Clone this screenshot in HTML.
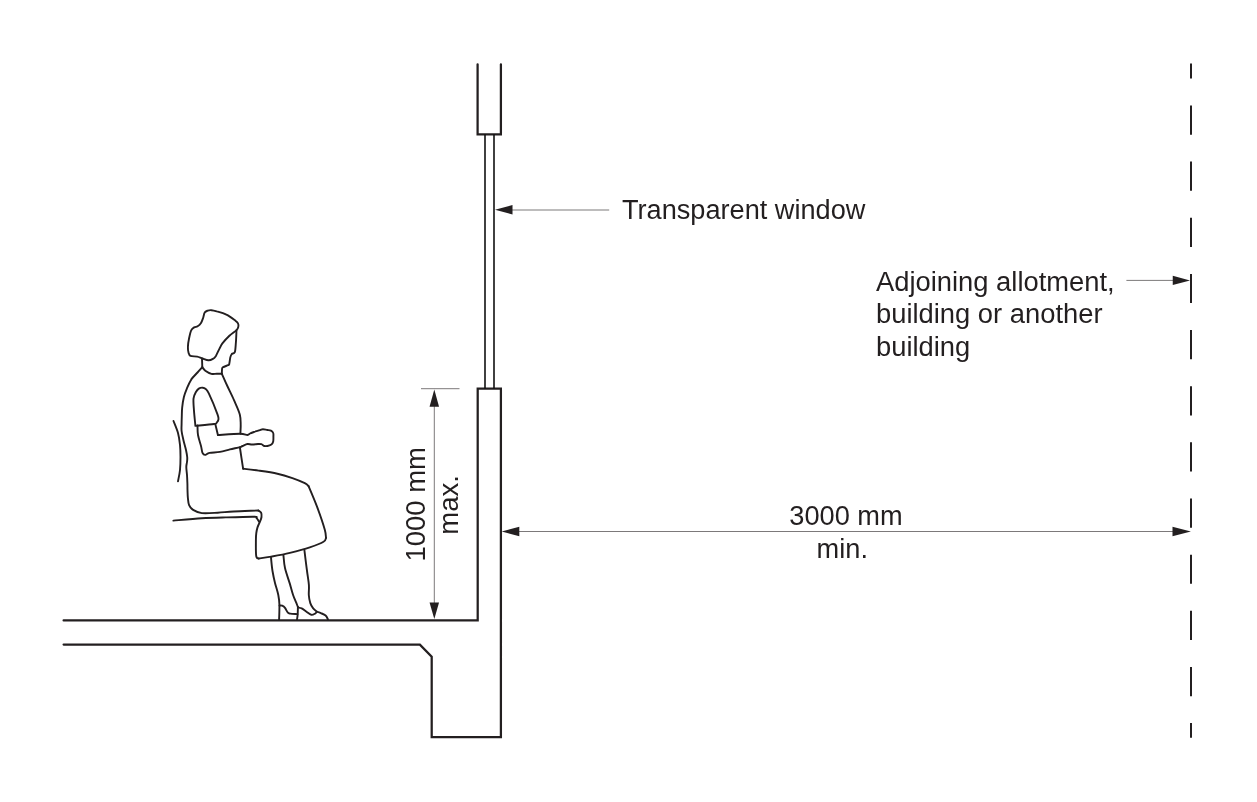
<!DOCTYPE html>
<html><head><meta charset="utf-8"><style>
html,body{margin:0;padding:0;background:#fff;}
body{width:1257px;height:802px;overflow:hidden;position:relative;}
svg{position:absolute;left:0;top:0;will-change:transform;}
text{font-family:"Liberation Sans",sans-serif;font-size:27.5px;fill:#231f20;}
</style></head><body>
<svg width="1257" height="802" viewBox="0 0 1257 802">
<g fill="none" stroke="#231f20" stroke-width="2.25" stroke-linejoin="miter">
<path d="M477.6,64.3 V134.3 H500.9 V64.3" stroke-linecap="round"/>
<path d="M63.6,620.4 H477.7 V388.7 H500.9 V737 H431.7 V656.6 L419.9,644.6 H63.6" stroke-linecap="round"/>
</g>
<g stroke="#111" stroke-width="1.6">
<line x1="485" y1="134.3" x2="485" y2="388.7"/>
<line x1="494" y1="134.3" x2="494" y2="388.7"/>
</g>
<line x1="1191" y1="63.5" x2="1191" y2="737.8" stroke="#231f20" stroke-width="2" stroke-dasharray="29.2 26.95" stroke-dashoffset="14.2"/>
<g stroke="#231f20" stroke-width="0.6">
<line x1="434.3" y1="395" x2="434.3" y2="610"/>
<line x1="421" y1="388.7" x2="459.5" y2="388.7"/>
<line x1="505" y1="210" x2="609.2" y2="210"/>
<line x1="1126.4" y1="280.4" x2="1180" y2="280.4"/>
<line x1="510" y1="531.5" x2="1180" y2="531.5"/>
</g>
<g fill="#231f20">
<path d="M434.3,389.5 L439.05,406.75 L429.55,406.75Z"/>
<path d="M434.3,619 L439.05,602.5 L429.55,602.5Z"/>
<path d="M495,209.8 L512.5,205.05 L512.5,214.55Z"/>
<path d="M1190,280.4 L1172.75,275.8 L1172.75,285Z"/>
<path d="M501.7,531.5 L519.3,526.85 L519.3,536.35Z"/>
<path d="M1190.9,531.5 L1172.5,526.85 L1172.5,536.35Z"/>
</g>
<g fill="none" stroke="#231f20" stroke-width="1.9" stroke-linecap="round" stroke-linejoin="round">
<path d="M204.7,312.5 C205.4,311.3 206.6,311.0 207.7,310.6 C208.8,310.2 209.9,310.1 211.4,310.2 C212.9,310.3 214.2,310.6 216.7,311.4 C219.2,312.1 223.3,313.1 226.4,314.7 C229.5,316.2 233.5,319.3 235.4,320.7 C237.3,322.1 237.5,322.3 238.0,323.3 C238.5,324.3 238.6,325.6 238.3,326.7 C238.1,327.8 238.0,328.6 236.5,330.1 C235.0,331.6 231.7,333.5 229.4,335.7 C227.1,337.9 224.2,341.0 222.6,343.1 C221.0,345.2 220.7,346.3 219.6,348.4 C218.5,350.5 217.0,354.1 215.9,355.9 C214.8,357.6 214.2,358.2 212.9,358.9 C211.7,359.6 210.2,360.4 208.4,360.3 C206.7,360.2 204.3,359.1 202.4,358.5 C200.5,357.9 199.2,357.0 197.2,356.6 C195.2,356.2 191.9,356.5 190.5,355.9 C189.1,355.3 189.0,354.4 188.6,352.9 C188.2,351.4 187.8,349.3 187.9,346.9 C188.0,344.5 188.4,341.4 189.0,338.7 C189.6,335.9 190.3,332.3 191.2,330.4 C192.1,328.5 193.1,328.1 194.2,327.4 C195.3,326.7 196.5,327.0 197.6,326.3 C198.7,325.6 200.1,324.4 201.0,323.0 C201.9,321.6 202.6,319.4 203.2,317.7 C203.8,315.9 203.9,313.7 204.7,312.5Z"/>
<path d="M236.5,330.3 C236.4,332.3 236.2,338.8 235.9,342.4 C235.6,346.0 235.5,350.3 234.8,352.2 C234.1,354.1 232.6,353.1 231.8,354.0 C231.1,354.9 230.7,355.7 230.3,357.4 C229.9,359.1 229.6,362.8 229.2,364.1 C228.8,365.4 229.1,364.7 228.1,365.2 C227.1,365.7 224.2,366.5 223.2,367.1 C222.2,367.7 222.3,367.5 222.1,368.6 C221.9,369.7 221.9,372.9 221.8,373.8"/>
<path d="M202.0,358.5 C202.1,359.9 202.2,365.8 202.3,367.2"/>
<path d="M202.3,367.2 C202.8,367.8 203.8,369.6 205.3,370.7 C206.8,371.8 209.5,373.3 211.4,373.8 C213.3,374.3 214.9,373.8 216.7,373.8 C218.4,373.8 221.0,373.8 221.9,373.8"/>
<path d="M202.3,367.2 C201.5,368.1 199.3,370.5 197.5,372.5 C195.7,374.5 193.1,376.8 191.3,379.4 C189.6,382.0 188.2,385.3 187.0,388.2 C185.8,391.1 184.7,393.7 183.9,396.9 C183.1,400.1 182.5,404.2 182.2,407.4 C181.8,410.6 181.9,413.3 181.8,416.1 C181.7,418.9 181.6,421.5 181.6,424.0 C181.6,426.5 181.3,428.3 181.6,431.0 C181.9,433.7 182.7,436.8 183.4,440.0 C184.1,443.2 185.4,447.2 186.0,450.0 C186.6,452.8 187.0,455.0 187.2,457.0 C187.4,459.0 187.2,460.3 187.0,462.0 C186.8,463.7 186.3,464.8 186.3,467.0 C186.3,469.2 186.8,472.2 187.0,475.0 C187.2,477.8 187.3,481.1 187.4,483.6 C187.5,486.1 187.4,487.6 187.5,490.0 C187.6,492.4 187.6,495.5 187.9,498.0 C188.2,500.5 188.2,503.1 189.1,505.1 C190.0,507.1 191.0,508.6 193.1,509.9 C195.2,511.2 197.7,512.6 201.8,513.1 C205.9,513.6 212.4,513.0 217.7,512.7 C223.0,512.4 226.8,511.9 233.6,511.5 C240.4,511.1 254.2,510.7 258.3,510.5"/>
<path d="M258.3,510.5 C258.8,510.9 260.6,511.6 261.1,512.7 C261.6,513.8 261.7,515.5 261.5,517.0 C261.3,518.5 260.6,520.1 259.9,521.8 C259.2,523.5 258.1,525.5 257.5,527.4 C256.9,529.3 256.6,530.9 256.3,533.0 C256.0,535.1 255.9,536.2 255.9,540.0 C255.9,543.8 255.7,552.9 256.2,556.0 C256.7,559.1 258.3,558.1 258.7,558.5"/>
<path d="M258.7,558.5 C260.8,558.2 266.0,557.5 271.2,556.6 C276.4,555.7 283.5,554.5 289.9,552.9 C296.3,551.3 304.2,549.2 309.8,547.3 C315.4,545.4 320.8,543.3 323.5,541.7 C326.2,540.1 325.6,538.5 326.0,537.9"/>
<path d="M326.0,537.9 C325.8,536.5 326.2,534.9 324.8,529.8 C323.4,524.7 320.0,514.7 317.3,507.4 C314.6,500.1 310.1,489.7 308.6,486.2"/>
<path d="M308.6,486.2 C308.0,485.7 307.5,484.5 304.8,483.1 C302.1,481.8 297.0,479.7 292.4,478.1 C287.8,476.5 283.0,474.9 277.4,473.7 C271.8,472.4 264.4,471.4 258.7,470.6 C253.0,469.8 245.7,469.0 243.1,468.7"/>
<path d="M221.9,373.8 C222.8,375.8 225.1,381.1 227.1,385.5 C229.1,389.9 232.0,395.6 234.1,400.4 C236.2,405.2 238.7,410.3 239.8,414.4 C240.9,418.5 240.6,421.6 240.7,424.8 C240.8,428.0 240.4,432.3 240.4,433.8"/>
<path d="M239.9,447.5 C240.4,451.0 242.6,465.2 243.1,468.7"/>
<path d="M195.4,425.8 C195.2,423.3 194.3,415.4 194.0,410.9 C193.7,406.4 193.2,401.8 193.5,398.6 C193.8,395.4 195.2,393.4 196.1,391.7 C197.0,390.0 197.7,389.3 198.8,388.6 C199.9,387.9 201.5,387.6 202.7,387.7 C203.8,387.8 204.7,388.1 205.7,389.0 C206.7,389.9 206.8,389.2 208.8,393.4 C210.8,397.6 215.9,410.0 217.5,414.4 C219.1,418.8 218.5,418.2 218.4,419.6 C218.3,421.0 217.4,421.9 216.7,422.6 C216.0,423.3 217.6,423.5 214.0,424.0 C210.4,424.5 198.5,425.5 195.4,425.8"/>
<path d="M197.5,425.5 C197.6,427.1 197.4,431.6 198.0,435.0 C198.6,438.4 200.2,442.9 201.0,445.9 C201.8,448.9 201.8,451.4 202.5,452.9 C203.2,454.4 203.8,454.9 205.0,454.9 C206.2,454.9 207.0,453.4 209.5,452.9 C212.0,452.4 216.5,452.5 219.9,451.9 C223.3,451.3 226.6,450.2 229.9,449.4 C233.2,448.6 237.9,447.8 240.0,447.2 C242.1,446.6 241.2,446.5 242.5,446.0 C243.8,445.5 245.9,444.2 247.5,444.0 C249.1,443.8 250.2,444.5 252.0,444.5 C253.8,444.5 256.4,444.1 258.0,444.0 C259.6,443.9 260.3,443.9 261.4,444.2 C262.5,444.5 263.4,445.7 264.4,446.0 C265.4,446.3 266.2,446.2 267.4,446.0 C268.6,445.8 270.4,445.2 271.4,444.5 C272.4,443.8 272.9,442.8 273.2,441.5 C273.5,440.2 273.4,437.9 273.4,436.5 C273.4,435.1 273.6,434.0 273.2,433.0 C272.8,432.0 271.9,431.2 270.9,430.7 C269.9,430.2 268.7,430.2 267.4,430.0 C266.1,429.8 264.1,429.2 262.9,429.2 C261.7,429.2 261.5,429.7 260.0,430.2 C258.5,430.7 255.7,431.4 254.0,432.0 C252.3,432.6 251.1,433.0 250.0,433.5 C248.9,434.0 249.2,434.9 247.5,435.0 C245.8,435.1 244.9,433.8 240.0,433.8 C235.1,433.8 221.6,434.8 217.9,435.0"/>
<path d="M217.9,435.0 C217.5,433.2 215.8,426.2 215.4,424.5"/>
<path d="M173.5,421.0 C174.2,423.0 176.9,429.0 178.0,433.0 C179.1,437.0 179.6,441.0 180.0,445.0 C180.4,449.0 180.5,452.8 180.5,457.0 C180.5,461.2 180.4,465.9 180.0,470.0 C179.6,474.1 178.3,479.4 178.0,481.3"/>
<path d="M173.4,520.6 C178.1,520.2 193.1,518.7 201.8,518.2 C210.5,517.7 217.0,517.6 225.7,517.4 C234.4,517.1 248.6,516.6 253.8,516.7 C259.0,516.8 255.8,517.4 256.7,518.2 C257.6,519.1 258.7,521.2 259.1,521.8"/>
<path d="M271.0,557.5 C271.2,559.8 271.8,566.8 272.5,571.0 C273.2,575.2 274.0,578.9 275.0,582.9 C276.0,586.9 277.6,591.4 278.3,595.0 C279.0,598.6 279.3,600.4 279.4,604.5 C279.5,608.6 279.2,617.0 279.1,619.5"/>
<path d="M279.5,605.5 C279.9,605.5 281.3,605.3 282.2,605.7 C283.1,606.1 284.1,606.7 285.0,607.9 C285.9,609.1 287.0,611.8 287.9,612.7 C288.8,613.7 288.7,613.4 290.3,613.6 C291.9,613.8 296.2,614.0 297.4,614.1"/>
<path d="M297.9,606.9 C297.9,608.1 297.8,612.0 297.7,614.1 C297.6,616.2 297.1,618.6 297.0,619.5"/>
<path d="M283.4,555.0 C283.7,557.2 283.9,563.2 285.0,568.0 C286.1,572.8 288.5,579.4 289.9,583.9 C291.2,588.4 292.1,592.0 293.1,595.0 C294.1,598.0 295.2,600.2 296.0,602.2 C296.8,604.2 297.6,606.1 297.9,606.9"/>
<path d="M297.9,607.4 C298.5,607.6 300.3,607.7 301.7,608.4 C303.1,609.1 304.9,610.6 306.5,611.7 C308.1,612.8 309.9,614.5 311.3,614.8 C312.7,615.1 314.2,614.1 315.1,613.6 C316.1,613.1 316.1,612.0 317.0,611.9 C317.9,611.8 319.4,612.5 320.8,613.1 C322.2,613.7 324.4,614.4 325.6,615.5 C326.8,616.6 327.6,618.8 328.0,619.5"/>
<path d="M304.4,550.0 C304.8,553.3 306.1,564.2 306.9,570.0 C307.6,575.8 308.6,580.8 308.9,585.0 C309.2,589.2 308.6,592.0 308.8,595.0 C309.0,598.0 309.6,600.9 310.3,603.1 C311.0,605.3 312.1,607.0 313.2,608.4 C314.3,609.8 316.4,611.2 317.0,611.7"/>
</g>
<text x="622" y="218.7" style="font-size:27.15px">Transparent window</text>
<text x="876" y="290.8" style="font-size:27.35px">Adjoining allotment,</text>
<text x="876" y="323.3" style="font-size:27.35px">building or another</text>
<text x="876" y="356" style="font-size:27.35px">building</text>
<text x="789.3" y="525.3" style="font-size:27.2px">3000 mm</text>
<text x="816.6" y="558" style="font-size:27.2px">min.</text>
<text transform="translate(425.4,561.6) rotate(-90)">1000 mm</text>
<text transform="translate(458,534.7) rotate(-90)">max.</text>
</svg>
</body></html>
